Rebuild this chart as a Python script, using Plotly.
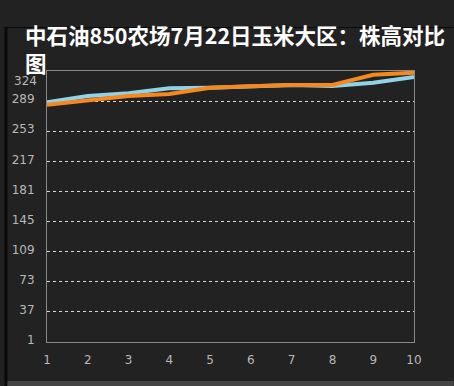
import math
import plotly.graph_objects as go

x_vals = [1, 2, 3, 4, 5, 6, 7, 8, 9, 10]
series_blue = [286.7, 294.2, 297.4, 303.4, 304.1, 305.8, 307.3, 306.1, 310.1, 316.9]
series_orange = [283.8, 288.6, 294.2, 296.6, 304.1, 305.8, 307.3, 307.3, 319.6, 322.0]
y_min, y_max = 1, 324
n_div = 9
y_tickvals = [y_min + i * (y_max - y_min) / n_div for i in range(n_div + 1)]
y_ticktext = [str(math.ceil(v - 1e-9)) for v in y_tickvals]
title_text = "中石油850农场7月22日玉米大区：株高对比<br>图"

W, H = 454, 386
BG = "#222222"
TICK_FONT = dict(family="DejaVu Sans", size=12, color="#b8b8b8")

fig = go.Figure()
fig.add_trace(go.Scatter(x=x_vals, y=series_blue, mode="lines",
                         line=dict(color="#8fd3eb", width=4), name="blue"))
fig.add_trace(go.Scatter(x=x_vals, y=series_orange, mode="lines",
                         line=dict(color="#f5891e", width=4), name="orange"))

title_font = dict(family="Noto Sans CJK SC", size=21.5, color="#ffffff", weight="bold")

# top tick label is drawn a little lower than its gridline in the reference
axis_ticktext = y_ticktext[:-1] + [""]

fig.update_layout(
    width=W, height=H,
    margin=dict(l=43, r=40, t=71, b=44, pad=0),
    paper_bgcolor=BG, plot_bgcolor=BG,
    showlegend=False,
    annotations=[
        dict(text=title_text, xref="paper", yref="paper", showarrow=False,
             x=-24 / 371, xanchor="left", align="left",
             y=(342 - 48) / 271, yanchor="middle", font=title_font),
        dict(text=y_ticktext[-1], xref="paper", yref="y", showarrow=False,
             x=0, xanchor="right", xshift=-8, y=y_tickvals[-1], yanchor="middle",
             yshift=-10, font=TICK_FONT),
    ],
    xaxis=dict(range=[1, 10], tickvals=x_vals, ticktext=[str(v) for v in x_vals],
               showgrid=False, zeroline=False, showline=True, linecolor="#8a8a8a",
               linewidth=1, mirror=True, ticks="", ticklabelstandoff=7,
               tickfont=TICK_FONT),
    yaxis=dict(range=[y_min, y_max], tickvals=y_tickvals, ticktext=axis_ticktext,
               showgrid=True, gridcolor="#d8d8d8", griddash="dot", gridwidth=1,
               zeroline=False, showline=True, linecolor="#8a8a8a", linewidth=1,
               mirror=True, ticks="", ticklabelstandoff=9, ticklabelshift=-2,
               tickfont=TICK_FONT),
    shapes=[
        dict(type="rect", xref="paper", yref="paper", layer="below",
             x0=-43 / 371, x1=-40 / 371, y0=-44 / 271, y1=315 / 271,
             fillcolor="#0a0a0a", line=dict(width=0)),
        dict(type="rect", xref="paper", yref="paper", layer="below",
             x0=-43 / 371, x1=411 / 371, y0=314 / 271, y1=315 / 271,
             fillcolor="#0a0a0a", line=dict(width=0)),
        dict(type="rect", xref="paper", yref="paper", layer="below",
             x0=-40 / 371, x1=411 / 371, y0=-44 / 271, y1=-39 / 271,
             fillcolor="#444444", line=dict(width=0)),
    ],
)

fig.write_html("out.html")
